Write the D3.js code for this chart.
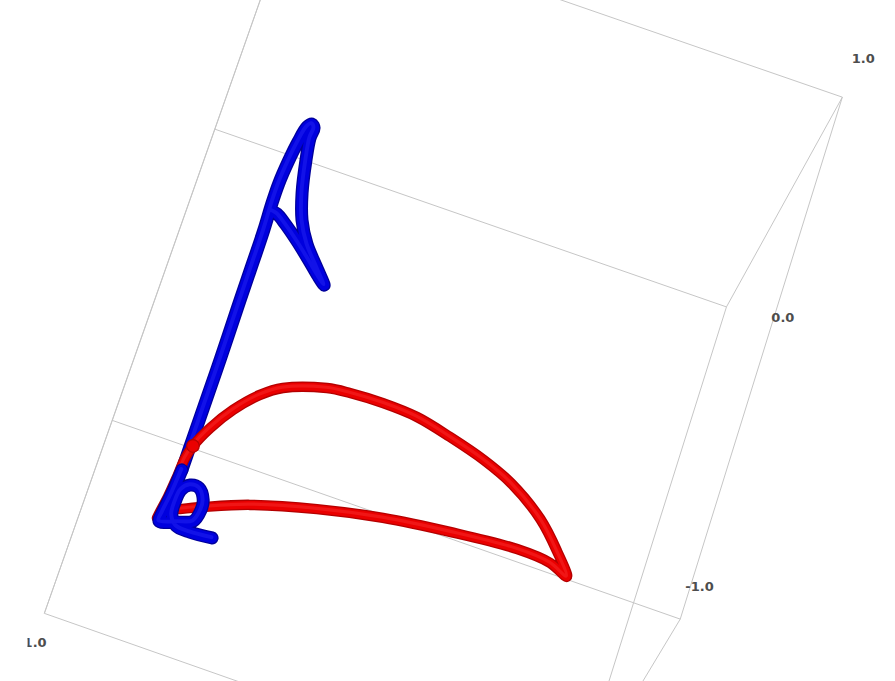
<!DOCTYPE html>
<html>
<head>
<meta charset="utf-8">
<script src="https://cdn.jsdelivr.net/npm/d3@7"></script>
<style>
  html, body { margin: 0; padding: 0; background: #ffffff; }
  svg { display: block; }
</style>
</head>
<body>
<svg id="chart" width="895" height="681"></svg>
<script>
// ---- data -----------------------------------------------------------------
const axisDomain = [-1, 1];
const tickValues = [-1, 0, 1];
const tickLabels = ["-1.0", "0.0", "1.0"];

// both trajectories lie in the plane y = 0
const trajectoryY = 0;

// red trajectory (x, z)
const redX = [-0.676, -0.603, -0.451, -0.226, 0.001, 0.237, 0.477, 0.601, 0.671, 0.611,
              0.522, 0.387, 0.272, 0.134, 0.003, -0.125, -0.246, -0.328, -0.474, -0.542,
              -0.614, -0.669, -0.705, -0.717, -0.722, -0.729, -0.738, -0.741];
const redZ = [-0.836, -0.801, -0.736, -0.669, -0.619, -0.586, -0.564, -0.572, -0.600, -0.522,
              -0.430, -0.340, -0.292, -0.252, -0.222, -0.215, -0.220, -0.231, -0.285, -0.338,
              -0.424, -0.516, -0.600, -0.652, -0.728, -0.808, -0.870, -0.895];
// index of the sharp bend that shows as a joint
const redJoint = 22;

// blue trajectory (x, z)
const blueX = [-0.721, -0.693, -0.654, -0.595, -0.537, -0.485, -0.454, -0.497, -0.558, -0.602,
               -0.633, -0.658, -0.670, -0.668, -0.680, -0.693, -0.706, -0.716, -0.722, -0.722,
               -0.718, -0.717, -0.716, -0.714, -0.714, -0.714, -0.714, -0.721, -0.730, -0.731,
               -0.668, -0.619, -0.606, -0.610, -0.637, -0.670, -0.694, -0.700, -0.696, -0.670,
               -0.617, -0.538];
const blueZ = [0.335, 0.330, 0.304, 0.257, 0.206, 0.158, 0.133, 0.185, 0.259, 0.339,
               0.437, 0.562, 0.647, 0.689, 0.701, 0.684, 0.618, 0.532, 0.444, 0.363,
               0.253, 0.123, -0.059, -0.257, -0.446, -0.607, -0.697, -0.798, -0.871, -0.903,
               -0.883, -0.862, -0.814, -0.776, -0.739, -0.740, -0.768, -0.817, -0.866, -0.899,
               -0.904, -0.897];
// the blue tail from this index passes in front of the red trajectory
const blueFrontFrom = 26;

// ---- 3D view --------------------------------------------------------------
// perspective camera (3x4 homogeneous projection of the unit box)
const camera = [
  [268.2884, -30.58287, 90.69571, 434.8532],
  [93.10362, 113.6798, -245.0734, 360.745],
  [-0.002031583, 0.03595629, 0.01672225, 1]
];
const width = 895, height = 681;

const sx = d3.scaleLinear().domain(axisDomain).range([-1, 1]);
const sy = d3.scaleLinear().domain(axisDomain).range([-1, 1]);
const sz = d3.scaleLinear().domain(axisDomain).range([-1, 1]);

function project(x, y, z) {
  const p = [sx(x), sy(y), sz(z), 1];
  const h = camera.map(r => r[0] * p[0] + r[1] * p[1] + r[2] * p[2] + r[3] * p[3]);
  return [h[0] / h[2], h[1] / h[2]];
}

const svg = d3.select("#chart");
svg.append("defs").append("clipPath").attr("id", "view")
  .append("rect").attr("x", 27.5).attr("y", 0).attr("width", width - 27.5).attr("height", height);
const root = svg.append("g").attr("clip-path", "url(#view)");

// ---- bounding box ---------------------------------------------------------
const [lo, hi] = axisDomain;
const edges = [];
[lo, hi].forEach(a => [lo, hi].forEach(b => {
  edges.push([[lo, a, b], [hi, a, b]]);   // along x
  edges.push([[a, lo, b], [a, hi, b]]);   // along y
  edges.push([[a, b, lo], [a, b, hi]]);   // along z
}));
root.append("g").attr("class", "box")
  .selectAll("line").data(edges).join("line")
  .attr("x1", d => project(...d[0])[0]).attr("y1", d => project(...d[0])[1])
  .attr("x2", d => project(...d[1])[0]).attr("y2", d => project(...d[1])[1])
  .attr("stroke", "#c6c6c6").attr("stroke-width", 1).attr("fill", "none");

// ---- tick labels ----------------------------------------------------------
const labelStyle = sel => sel
  .attr("text-anchor", "middle")
  .attr("font-family", "'DejaVu Sans', sans-serif")
  .attr("font-weight", "bold")
  .attr("font-size", 13)
  .attr("fill", "#4d4d4d");

// z axis labels along the x = hi, y = lo edge
const zLabels = tickValues.map((t, i) => ({ p: project(hi, lo - 0.37, t - 0.03), text: tickLabels[i] }));
// x axis labels along the y = hi, z = lo edge
const xLabels = tickValues.map((t, i) => ({ p: project(t, hi, lo - 0.135), text: tickLabels[i] }));

root.append("g").selectAll("text")
  .data(zLabels.concat(xLabels).filter(d => d.p[1] < height - 12 && d.p[1] > 12))
  .join("text")
  .call(labelStyle)
  .attr("x", d => d.p[0])
  .attr("y", d => d.p[1])
  .text(d => d.text);

// ---- tubes ----------------------------------------------------------------
const line = d3.line().curve(d3.curveCatmullRom.alpha(0.5));

function tube(pts, w, dark, main, light) {
  const g = root.append("g");
  const d = line(pts);
  const stroke = (color, sw) => g.append("path").attr("d", d).attr("fill", "none")
    .attr("stroke", color).attr("stroke-width", sw)
    .attr("stroke-linecap", "round").attr("stroke-linejoin", "round");
  stroke(dark, w);
  stroke(main, w - 2.6);
  stroke(light, w * 0.3).attr("opacity", 0.3).attr("transform", "translate(-0.6,-0.8)");
  return g;
}

const redPts = redX.map((x, i) => project(x, trajectoryY, redZ[i]));
const bluePts = blueX.map((x, i) => project(x, trajectoryY, blueZ[i]));

const blueColors = ["#00009a", "#0000de", "#3a3aff"];
const redColors = ["#b40000", "#ea0000", "#ff4a4a"];

tube(bluePts.slice(0, blueFrontFrom + 1), 13, ...blueColors);
tube(redPts, 10.5, ...redColors);
root.append("circle")
  .attr("cx", redPts[redJoint][0]).attr("cy", redPts[redJoint][1]).attr("r", 6.3)
  .attr("fill", redColors[1]).attr("stroke", redColors[0]).attr("stroke-width", 1.2);
tube(bluePts.slice(blueFrontFrom), 13, ...blueColors);
</script>
</body>
</html>
